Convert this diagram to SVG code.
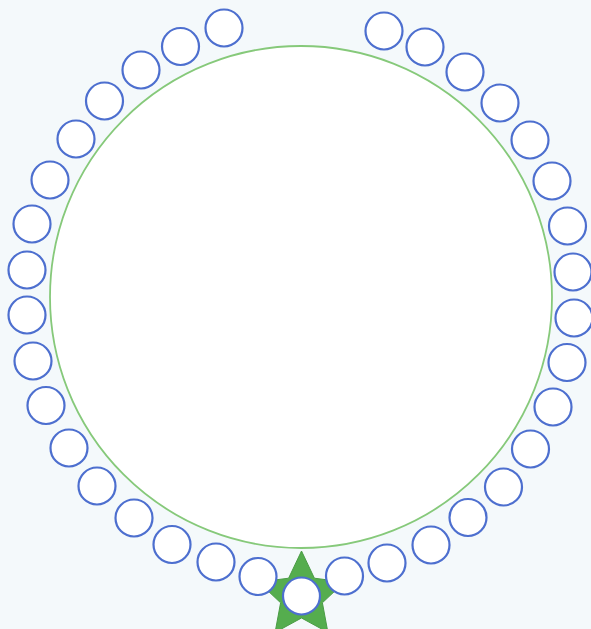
<svg xmlns="http://www.w3.org/2000/svg" width="591" height="629" viewBox="0 0 591 629">
<style>
.bead{fill:#ffffff;stroke:#4d6fcf;stroke-width:2.2}
.ring{fill:#ffffff;stroke:#86c97a;stroke-width:1.8}
.star{fill:#55ad4e;stroke:#4a9c45;stroke-width:1}
</style>
<defs>
<circle id="b" r="18.5" class="bead"/>
</defs>
<rect width="591" height="629" fill="#f4f9fb"/>
<g id="ring"><circle cx="301" cy="297" r="251" class="ring"/></g>
<g id="star"><polygon class="star" points="301.5,551 314.4,578.2 344.3,582.1 322.4,602.8 327.9,632.4 301.5,618 275.1,632.4 280.6,602.8 258.7,582.1 288.6,578.2"/></g>
<g id="beads">
<g id="n1"><use href="#b" x="224" y="28"/></g>
<g id="n2"><use href="#b" x="180.5" y="46.5"/></g>
<g id="n3"><use href="#b" x="141" y="70"/></g>
<g id="n4"><use href="#b" x="104.5" y="101"/></g>
<g id="n5"><use href="#b" x="76" y="139"/></g>
<g id="n6"><use href="#b" x="50" y="180"/></g>
<g id="n7"><use href="#b" x="32" y="224"/></g>
<g id="n8"><use href="#b" x="27" y="270"/></g>
<g id="n9"><use href="#b" x="27" y="315"/></g>
<g id="n10"><use href="#b" x="33" y="361"/></g>
<g id="n11"><use href="#b" x="46" y="405.5"/></g>
<g id="n12"><use href="#b" x="69" y="448"/></g>
<g id="n13"><use href="#b" x="97" y="486"/></g>
<g id="n14"><use href="#b" x="134" y="518"/></g>
<g id="n15"><use href="#b" x="172" y="544.5"/></g>
<g id="n16"><use href="#b" x="216" y="562"/></g>
<g id="n17"><use href="#b" x="258" y="576.5"/></g>
<g id="n18"><use href="#b" x="301.5" y="596"/></g>
<g id="n19"><use href="#b" x="344.5" y="576"/></g>
<g id="n20"><use href="#b" x="387" y="563"/></g>
<g id="n21"><use href="#b" x="431" y="545"/></g>
<g id="n22"><use href="#b" x="468" y="517.5"/></g>
<g id="n23"><use href="#b" x="503.5" y="487"/></g>
<g id="n24"><use href="#b" x="530.5" y="449"/></g>
<g id="n25"><use href="#b" x="553" y="407"/></g>
<g id="n26"><use href="#b" x="567" y="362.5"/></g>
<g id="n27"><use href="#b" x="574" y="318"/></g>
<g id="n28"><use href="#b" x="573" y="272"/></g>
<g id="n29"><use href="#b" x="567.5" y="226"/></g>
<g id="n30"><use href="#b" x="552" y="181"/></g>
<g id="n31"><use href="#b" x="530" y="140"/></g>
<g id="n32"><use href="#b" x="500" y="103"/></g>
<g id="n33"><use href="#b" x="465" y="72"/></g>
<g id="n34"><use href="#b" x="425" y="47"/></g>
<g id="n35"><use href="#b" x="384" y="31"/></g>
</g>
</svg>
